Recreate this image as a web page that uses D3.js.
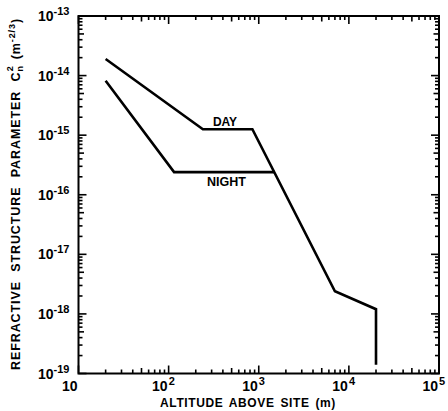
<!DOCTYPE html>
<html>
<head>
<meta charset="utf-8">
<script src="https://cdn.jsdelivr.net/npm/d3@7"></script>
<style>
  body { margin: 0; background: #fff; }
  svg { display: block; font-family: "Liberation Sans", Arial, sans-serif; font-weight: bold; }
</style>
</head>
<body>
<svg></svg>
<script>
// altitude (m) and Cn2 (m^-2/3) break points
const dayAltitude = [20, 240, 850, 7000, 20000, 20000];
const dayCn2 = [1.9e-14, 1.26e-15, 1.26e-15, 2.4e-18, 1.2e-18, 1.4e-19];
const nightAltitude = [20, 115, 1500];
const nightCn2 = [8.2e-15, 2.4e-16, 2.4e-16];

const xTickExps = [1, 2, 3, 4, 5];
const yTickExps = [-13, -14, -15, -16, -17, -18, -19];

const width = 448;
const height = 411;

const svg = d3.select("svg").attr("width", width).attr("height", height);

const x = d3.scaleLog().domain([10, 1e5]).range([78.5, 439]);
const y = d3.scaleLog().domain([1e-19, 1e-13]).range([373.5, 16]);

const x0 = 78.5, x1 = 439;
const y0 = 373.5, y1 = 16;

// tick marks: value + length (major 8, the 5 of each decade 5.5, other minors 4)
const tickLen = (m) => (m === 1 ? 8 : m === 5 ? 5.5 : 4);
const xTicks = [];
for (let e = 1; e <= 4; e++) {
  for (let m = 1; m <= 9; m++) xTicks.push({ v: m * Math.pow(10, e), len: tickLen(m) });
}
xTicks.push({ v: 1e5, len: 8 });
const yTicks = [];
for (let e = -19; e <= -14; e++) {
  for (let m = 1; m <= 9; m++) yTicks.push({ v: m * Math.pow(10, e), len: tickLen(m) });
}
yTicks.push({ v: 1e-13, len: 8 });

// frame
svg.append("rect")
  .attr("x", x0).attr("y", y1)
  .attr("width", x1 - x0).attr("height", y0 - y1)
  .attr("fill", "none").attr("stroke", "#000").attr("stroke-width", 2);

// inward ticks on every side
const xAxisTicks = svg.append("g").selectAll("g")
  .data(xTicks)
  .join("g")
  .attr("transform", (d) => `translate(${x(d.v)},0)`);
xAxisTicks.append("path")
  .attr("d", (d) => `M0,${y0}V${y0 - d.len}`)
  .attr("stroke", "#000").attr("stroke-width", 1.6);
xAxisTicks.append("path")
  .attr("d", (d) => `M0,${y1}V${y1 + d.len}`)
  .attr("stroke", "#000").attr("stroke-width", 1.6);

const yAxisTicks = svg.append("g").selectAll("g")
  .data(yTicks)
  .join("g")
  .attr("transform", (d) => `translate(0,${y(d.v)})`);
yAxisTicks.append("path")
  .attr("d", (d) => `M${x0},0H${x0 + d.len}`)
  .attr("stroke", "#000").attr("stroke-width", 1.6);
yAxisTicks.append("path")
  .attr("d", (d) => `M${x1},0H${x1 - d.len}`)
  .attr("stroke", "#000").attr("stroke-width", 1.6);

// x tick labels: "10" ends at the tick, exponent follows
xTickExps.forEach((e) => {
  const tx = x(Math.pow(10, e));
  svg.append("text")
    .attr("x", tx - 1)
    .attr("y", y0 + 17)
    .attr("text-anchor", "end")
    .style("font-size", "14px")
    .text("10");
  if (e > 1) {
    svg.append("text")
      .attr("x", tx)
      .attr("y", y0 + 11)
      .style("font-size", "11px")
      .text(e);
  }
});

// y tick labels
yTickExps.forEach((e) => {
  const t = svg.append("text")
    .attr("x", 38)
    .attr("y", y(Math.pow(10, e)) + 5)
    .style("font-size", "14px");
  t.append("tspan").text("10");
  t.append("tspan").attr("dy", -6).style("font-size", "11px").text(e);
});

// axis titles
svg.append("text")
  .attr("x", 248)
  .attr("y", 407)
  .attr("text-anchor", "middle")
  .style("font-size", "12px")
  .style("letter-spacing", "0.6px")
  .style("word-spacing", "2px")
  .text("ALTITUDE ABOVE SITE (m)");

const yt = svg.append("text")
  .attr("transform", "translate(20,194) rotate(-90)")
  .attr("text-anchor", "middle")
  .style("font-size", "12.5px")
  .style("letter-spacing", "0.9px")
  .style("word-spacing", "5px");
yt.append("tspan").text("REFRACTIVE STRUCTURE PARAMETER C");
yt.append("tspan").attr("dy", 3).style("font-size", "9px").text("n");
yt.append("tspan").attr("dx", -6).attr("dy", -10).style("font-size", "9px").text("2");
yt.append("tspan").attr("dx", 6).attr("dy", 7).text("(m");
yt.append("tspan").attr("dy", -5).style("font-size", "9px").text("-2/3");
yt.append("tspan").attr("dy", 5).text(")");

// data lines
const line = d3.line().x((d) => x(d[0])).y((d) => y(d[1]));
const daySeries = dayAltitude.map((a, i) => [a, dayCn2[i]]);
const nightSeries = nightAltitude.map((a, i) => [a, nightCn2[i]]);

[daySeries, nightSeries].forEach((s) => {
  svg.append("path")
    .datum(s)
    .attr("d", line)
    .attr("fill", "none")
    .attr("stroke", "#000")
    .attr("stroke-width", 2.6)
    .attr("stroke-linejoin", "miter");
});

// series labels
svg.append("text")
  .attr("x", 225).attr("y", 126)
  .attr("text-anchor", "middle")
  .style("font-size", "12px")
  .text("DAY");
svg.append("text")
  .attr("x", 226.5).attr("y", 186)
  .attr("text-anchor", "middle")
  .style("font-size", "12.5px")
  .text("NIGHT");
</script>
</body>
</html>
